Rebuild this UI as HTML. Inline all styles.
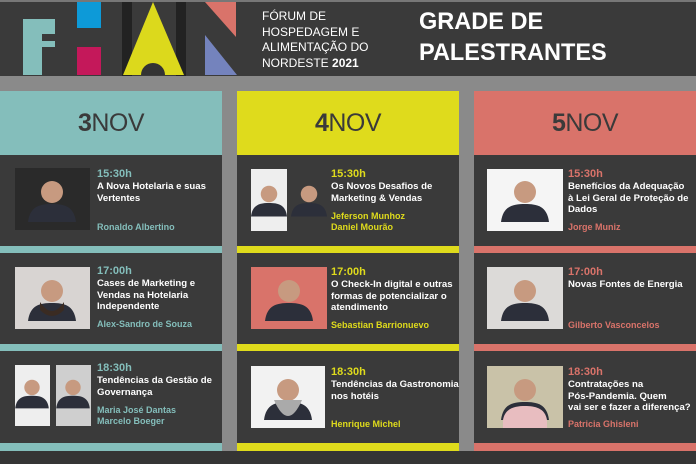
<!DOCTYPE html>
<html><head><meta charset="utf-8"><style>
*{margin:0;padding:0;box-sizing:border-box}
body{width:696px;height:464px;overflow:hidden;background:#353535;position:relative;font-family:"Liberation Sans",sans-serif}
.a{position:absolute}
.t{position:absolute;font-weight:bold;font-size:9.6px;line-height:11.5px;color:#fff;white-space:nowrap}
.tm{font-size:11px;line-height:12px;margin-bottom:1px}
.nm{position:absolute;font-weight:bold;font-size:9px;line-height:11px;white-space:nowrap}
.day{position:absolute;top:91px;height:64px;font-size:25px;line-height:64px;text-align:center;color:#3a3a3a;letter-spacing:-0.5px}
.day b{font-weight:bold}
</style></head><body>
<div class="a" style="left:0;top:0;width:696px;height:2px;background:#777"></div>
<div class="a" style="left:0;top:2px;width:696px;height:74px;background:#3a3a3a"></div>
<svg class="a" style="left:0;top:0" width="240" height="77">
<path d="M23 19H55V34H42V41H55V47H42V75H23Z" fill="#84bebb"/>
<rect x="77" y="2" width="24" height="26" fill="#0d9ad8"/>
<rect x="77" y="47" width="24" height="28" fill="#c4185a"/>
<rect x="122" y="2" width="10" height="74" fill="#222"/>
<rect x="176" y="2" width="10" height="74" fill="#222"/>
<path d="M153 2L184 75H123Z" fill="#dcd91c"/>
<path d="M141 75A12 12 0 0 1 165 75Z" fill="#333"/>
<path d="M205 2H236V37Z" fill="#d9736a"/>
<path d="M205 35L237 75H205Z" fill="#7483bd"/>
</svg>
<div class="a" style="left:262px;top:9px;color:#fff;font-size:12px;line-height:15.5px">FÓRUM DE<br>HOSPEDAGEM E<br>ALIMENTAÇÃO DO<br>NORDESTE <b>2021</b></div>
<div class="a" style="left:419px;top:6px;color:#fff;font-size:24.5px;line-height:31px;font-weight:bold;transform:scaleX(0.96);transform-origin:left">GRADE DE<br>PALESTRANTES</div>
<div class="a" style="left:0;top:76px;width:696px;height:15px;background:#8a8a8a"></div>
<div class="a" style="left:222px;top:76px;width:15px;height:375px;background:#8a8a8a"></div>
<div class="a" style="left:459px;top:76px;width:15px;height:375px;background:#8a8a8a"></div>
<div class="day" style="left:0;width:222px;background:#84bebb"><b>3</b>NOV</div>
<div class="day" style="left:237px;width:222px;background:#dfdb1c"><b>4</b>NOV</div>
<div class="day" style="left:474px;width:222px;background:#d9736a"><b>5</b>NOV</div>
<div class="a" style="left:0;top:155px;width:222px;height:296px;background:#3a3a3a"></div>
<div class="a" style="left:237px;top:155px;width:222px;height:296px;background:#3a3a3a"></div>
<div class="a" style="left:474px;top:155px;width:222px;height:296px;background:#3a3a3a"></div>
<div class="a" style="left:0;top:246px;width:222px;height:7px;background:#84bebb"></div>
<div class="a" style="left:0;top:344px;width:222px;height:7px;background:#84bebb"></div>
<div class="a" style="left:0;top:443px;width:222px;height:8px;background:#84bebb"></div>
<div class="a" style="left:237px;top:246px;width:222px;height:7px;background:#dfdb1c"></div>
<div class="a" style="left:237px;top:344px;width:222px;height:7px;background:#dfdb1c"></div>
<div class="a" style="left:237px;top:443px;width:222px;height:8px;background:#dfdb1c"></div>
<div class="a" style="left:474px;top:246px;width:222px;height:7px;background:#d9736a"></div>
<div class="a" style="left:474px;top:344px;width:222px;height:7px;background:#d9736a"></div>
<div class="a" style="left:474px;top:443px;width:222px;height:8px;background:#d9736a"></div>
<svg class="a" style="left:0;top:0" width="696" height="464">
<defs>
<g id="p"><circle cx="0" cy="-8" r="11" fill="#c79a80"/><path d="M-24 22C-22 6 -12 4 0 4S22 6 24 22Z" fill="#2c2f3a"/></g>
</defs>
<rect x="15" y="168" width="75" height="62" fill="#2a2a2a"/><use href="#p" transform="translate(52,200)"/>
<rect x="15" y="267" width="75" height="62" fill="#d8d4d2"/><use href="#p" transform="translate(52,299)"/><path d="M40 302Q52 320 64 302V310Q52 322 40 310Z" fill="#3a2b22"/>
<rect x="15" y="365" width="35" height="61" fill="#eee"/><use href="#p" transform="translate(32,393) scale(0.7)"/>
<rect x="56" y="365" width="35" height="61" fill="#cfcfcf"/><use href="#p" transform="translate(73,393) scale(0.7)"/>
<rect x="251" y="169" width="36" height="62" fill="#eee"/><use href="#p" transform="translate(269,200) scale(0.75)"/>
<rect x="291" y="169" width="36" height="62" fill="#3a3a3a"/><use href="#p" transform="translate(309,200) scale(0.75)"/>
<rect x="251" y="267" width="76" height="62" fill="#d9736a"/><use href="#p" transform="translate(289,299)"/>
<rect x="251" y="366" width="74" height="62" fill="#f2f2f2"/><use href="#p" transform="translate(288,398)"/><path d="M274 400Q288 432 302 400Z" fill="#aaa"/>
<rect x="487" y="169" width="76" height="62" fill="#f5f5f5"/><use href="#p" transform="translate(525,200)"/>
<rect x="487" y="267" width="76" height="62" fill="#dcdad8"/><use href="#p" transform="translate(525,299)"/>
<rect x="487" y="366" width="76" height="62" fill="#c9c2a8"/><use href="#p" transform="translate(525,398)"/><path d="M503 420C505 408 515 406 525 406S545 408 547 420V428H503Z" fill="#e8bdc0"/>
</svg>
<div class="t" style="left:97px;top:168px"><div class="tm" style="color:#84bebb">15:30h</div>A Nova Hotelaria e suas<br>Vertentes</div>
<div class="nm" style="left:97px;top:222px;color:#84bebb">Ronaldo Albertino</div>
<div class="t" style="left:97px;top:265px"><div class="tm" style="color:#84bebb">17:00h</div>Cases de Marketing e<br>Vendas na Hotelaria<br>Independente</div>
<div class="nm" style="left:97px;top:319px;color:#84bebb">Alex-Sandro de Souza</div>
<div class="t" style="left:97px;top:362px"><div class="tm" style="color:#84bebb">18:30h</div>Tendências da Gestão de<br>Governança</div>
<div class="nm" style="left:97px;top:405px;color:#84bebb">Maria José Dantas<br>Marcelo Boeger</div>
<div class="t" style="left:331px;top:168px"><div class="tm" style="color:#dfdb1c">15:30h</div>Os Novos Desafios de<br>Marketing &amp; Vendas</div>
<div class="nm" style="left:331px;top:211px;color:#dfdb1c">Jeferson Munhoz<br>Daniel Mourão</div>
<div class="t" style="left:331px;top:266px"><div class="tm" style="color:#dfdb1c">17:00h</div>O Check-In digital e outras<br>formas de potencializar o<br>atendimento</div>
<div class="nm" style="left:331px;top:320px;color:#dfdb1c">Sebastian Barrionuevo</div>
<div class="t" style="left:331px;top:366px"><div class="tm" style="color:#dfdb1c">18:30h</div>Tendências da Gastronomia<br>nos hotéis</div>
<div class="nm" style="left:331px;top:419px;color:#dfdb1c">Henrique Michel</div>
<div class="t" style="left:568px;top:168px"><div class="tm" style="color:#d9736a">15:30h</div>Benefícios da Adequação<br>à Lei Geral de Proteção de<br>Dados</div>
<div class="nm" style="left:568px;top:222px;color:#d9736a">Jorge Muniz</div>
<div class="t" style="left:568px;top:266px"><div class="tm" style="color:#d9736a">17:00h</div>Novas Fontes de Energia</div>
<div class="nm" style="left:568px;top:320px;color:#d9736a">Gilberto Vasconcelos</div>
<div class="t" style="left:568px;top:366px"><div class="tm" style="color:#d9736a">18:30h</div>Contratações na<br>Pós-Pandemia. Quem<br>vai ser e fazer a diferença?</div>
<div class="nm" style="left:568px;top:419px;color:#d9736a">Patricia Ghisleni</div>
</body></html>
